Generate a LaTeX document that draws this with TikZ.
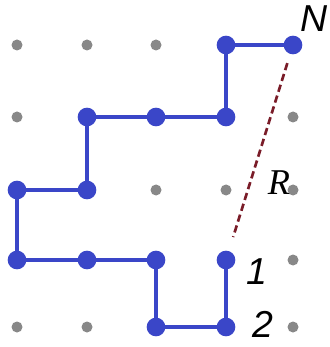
\documentclass[tikz,border=0pt]{standalone}
\usepackage{fontspec}
\setmainfont{Liberation Serif}
\newfontfamily\lblfont{Liberation Sans}
\usetikzlibrary{positioning}

\definecolor{walkblue}{RGB}{58,70,200}
\definecolor{dotgray}{RGB}{136,136,136}
\definecolor{rdark}{RGB}{122,28,40}

\begin{document}
\begin{tikzpicture}[
    x=0.03cm, y=-0.03cm,
    site/.style={circle, fill=dotgray, inner sep=0pt, minimum size=0.33cm},
    stepdot/.style={circle, fill=walkblue, inner sep=0pt, minimum size=0.56cm},
    walk/.style={walkblue, line width=0.14cm},
    rdash/.style={rdark, line width=0.08cm, dash pattern=on 0.22cm off 0.12cm},
    lbl/.style={inner sep=0pt, font=\lblfont\itshape\fontsize{32}{32}\selectfont}
  ]
    \useasboundingbox (0,0) rectangle (329,347);
    % lattice
    \foreach \cx in {17,87,156,226,293}
      \foreach \cy in {45,117,190,260,327}
        \node[site] at (\cx,\cy) {};
    % walk sites
    \node[stepdot] (w1) at (226,260) {};
    \node[stepdot] (w2) at (226,327) {};
    \node[stepdot] (w3) at (156,327) {};
    \node[stepdot] (w4) at (156,260) {};
    \node[stepdot] (w5) at (87,260) {};
    \node[stepdot] (w6) at (17,260) {};
    \node[stepdot] (w7) at (17,190) {};
    \node[stepdot] (w8) at (87,190) {};
    \node[stepdot] (w9) at (87,117) {};
    \node[stepdot] (w10) at (156,117) {};
    \node[stepdot] (w11) at (226,117) {};
    \node[stepdot] (w12) at (226,45) {};
    \node[stepdot] (w13) at (293,45) {};
    \draw[walk] (w1.center) -- (w2.center) -- (w3.center) -- (w4.center)
      -- (w5.center) -- (w6.center) -- (w7.center) -- (w8.center)
      -- (w9.center) -- (w10.center) -- (w11.center) -- (w12.center)
      -- (w13.center);
    \draw[rdash, shorten <=0.57cm, shorten >=0.72cm] (w13.center) -- (w1.center);
    % labels
    \node[lbl] (lN) at (314,19) {N};
    \node[lbl] (l1) at (257,272) {1};
    \node[lbl] (l2) at (263,324) {2};
    \node[inner sep=0pt, font=\itshape\fontsize{31}{31}\selectfont] (lR) at (279,183) {R};
  \end{tikzpicture}
\end{document}
